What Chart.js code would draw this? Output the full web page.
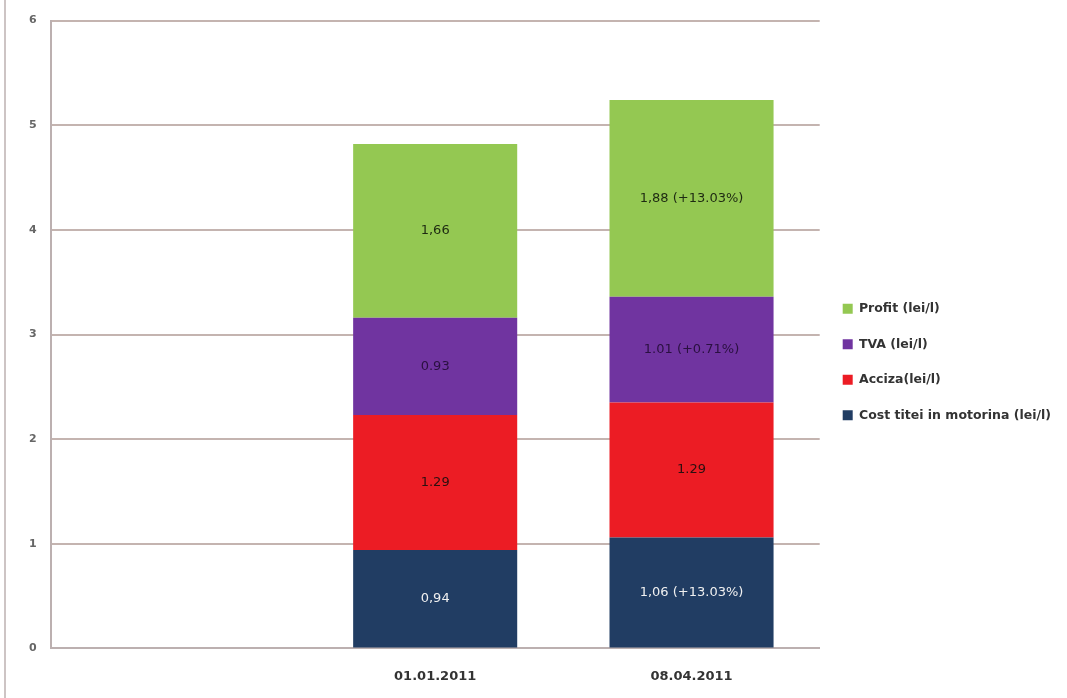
<!DOCTYPE html>
<html lang="ro">
<head>
  <meta charset="UTF-8">
  <title>Structura pretului motorinei</title>
  <style>
    body {
      margin: 0;
      background-color: #ffffff;
    }
    .frame {
      position: absolute;
      left: 4px;
      top: 0;
      width: 2px;
      height: 698px;
      background-color: #cdc4c4;
    }
    .container {
      position: relative;
      width: 1067px;
      height: 698px;
    }
  </style>
</head>
<body>
  <div class="container">
    <div class="frame"></div>
    <canvas id="priceChart"></canvas>
  </div>

  <script src="https://cdn.jsdelivr.net/npm/chart.js"></script>
  <script>
    // categories (first one is an empty slot, as in the original sheet)
    const dates = ["", "01.01.2011", "08.04.2011"];

    // series values, lei per litre
    const costValues = [null, 0.94, 1.06];
    const accizaValues = [null, 1.29, 1.29];
    const tvaValues = [null, 0.93, 1.01];
    const profitValues = [null, 1.66, 1.88];

    // texts written inside the bars
    const costLabels = ["", "0,94", "1,06 (+13.03%)"];
    const accizaLabels = ["", "1.29", "1.29"];
    const tvaLabels = ["", "0.93", "1.01 (+0.71%)"];
    const profitLabels = ["", "1,66", "1,88 (+13.03%)"];

    const yTicks = [0, 1, 2, 3, 4, 5, 6];

    // draws the value text in the middle of each segment
    const segmentLabels = {
      id: "segmentLabels",
      afterDatasetsDraw(chart) {
        const ctx = chart.ctx;
        ctx.save();
        ctx.font = "13px 'DejaVu Sans', sans-serif";
        ctx.textAlign = "center";
        ctx.textBaseline = "middle";
        chart.data.datasets.forEach((ds, i) => {
          const meta = chart.getDatasetMeta(i);
          meta.data.forEach((bar, j) => {
            if (ds.data[j] == null) return;
            ctx.fillStyle = ds.labelColor;
            ctx.fillText(ds.texts[j], bar.x, (bar.y + bar.base) / 2);
          });
        });
        ctx.restore();
      }
    };

    new Chart(document.getElementById("priceChart"), {
      type: "bar",
      data: {
        labels: dates,
        datasets: [
          { label: "Cost titei in motorina (lei/l)", data: costValues, texts: costLabels, backgroundColor: "#213d63", labelColor: "#f0f0f0" },
          { label: "Acciza(lei/l)", data: accizaValues, texts: accizaLabels, backgroundColor: "#ec1c24", labelColor: "#2a1010" },
          { label: "TVA (lei/l)", data: tvaValues, texts: tvaLabels, backgroundColor: "#7034a0", labelColor: "#2a1040" },
          { label: "Profit (lei/l)", data: profitValues, texts: profitLabels, backgroundColor: "#94c852", labelColor: "#1e2a12" }
        ]
      },
      options: {
        responsive: true,
        maintainAspectRatio: false,
        animation: false,
        barPercentage: 0.64,
        categoryPercentage: 1,
        layout: {
          padding: { left: 15, right: 6, top: 20, bottom: -6 }
        },
        plugins: {
          legend: {
            position: "right",
            reverse: true,
            labels: {
              boxWidth: 10,
              boxHeight: 10,
              padding: 23,
              color: "#333333",
              font: { family: "'DejaVu Sans', sans-serif", size: 12.5, weight: "bold" }
            }
          },
          tooltip: { enabled: false }
        },
        scales: {
          x: {
            stacked: true,
            grid: { display: false, drawTicks: false },
            border: { color: "#bcb0b0", width: 2 },
            ticks: {
              padding: 20,
              color: "#333333",
              font: { family: "'DejaVu Sans', sans-serif", size: 13, weight: "bold" }
            }
          },
          y: {
            stacked: true,
            min: 0,
            max: 6,
            afterBuildTicks: axis => { axis.ticks = yTicks.map(v => ({ value: v })); },
            grid: { color: "#c4b4b0", lineWidth: 2, drawTicks: false },
            border: { color: "#bcb0b0", width: 2 },
            ticks: {
              padding: 14,
              color: "#666666",
              font: { family: "'DejaVu Sans', sans-serif", size: 11, weight: "bold" }
            }
          }
        }
      },
      plugins: [segmentLabels]
    });
  </script>
</body>
</html>
